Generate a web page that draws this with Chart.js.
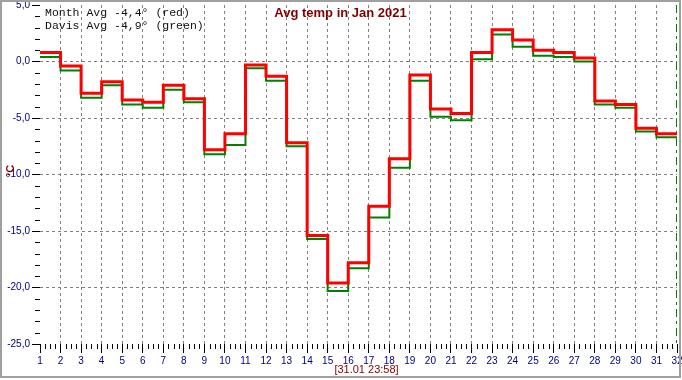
<!DOCTYPE html>
<html>
<head>
<meta charset="utf-8">
<script src="https://cdn.jsdelivr.net/npm/chart.js@4/dist/chart.umd.min.js"></script>
<style>
html,body{margin:0;padding:0;background:#fff;}
#c{display:block;}
</style>
</head>
<body>
<canvas id="c" width="682" height="380"></canvas>
<script>
const days = [1,2,3,4,5,6,7,8,9,10,11,12,13,14,15,16,17,18,19,20,21,22,23,24,25,26,27,28,29,30,31];
const monthAvg = [0.8,-0.4,-2.8,-1.8,-3.4,-3.6,-2.1,-3.3,-7.8,-6.4,-0.3,-1.3,-7.2,-15.4,-19.6,-17.8,-12.8,-8.6,-1.2,-4.2,-4.6,0.8,2.8,1.9,1.0,0.8,0.3,-3.5,-3.8,-5.9,-6.4];
const davisAvg = [0.4,-0.8,-3.2,-2.1,-3.8,-4.1,-2.5,-3.6,-8.2,-7.4,-0.6,-1.7,-7.5,-15.7,-20.3,-18.3,-13.8,-9.4,-1.7,-4.9,-5.2,0.2,2.4,1.3,0.5,0.4,0.0,-3.8,-4.1,-6.2,-6.7];
const endDay = 32;
const yMin = -25, yMax = 5;
const titleText = "Avg temp in Jan 2021";
const legendLines = ["Month Avg -4,4\u00b0 (red)", "Davis Avg -4,9\u00b0 (green)"];
const xTitle = "[31.01 23:58]";
const yTitle = "\u00b0C";

function stepPoints(vals){
  const pts = days.map((d,i)=>({x:d, y:vals[i]}));
  pts.push({x:endDay, y:vals[vals.length-1]});
  return pts;
}

const NAVY = '#000080';
const MAROON = '#800000';
const TICKFONT = "'Liberation Sans Narrow','Arial Narrow','Liberation Sans',Arial,sans-serif";

const decor = {
  id:'decor',
  beforeDraw(chart){
    const c = chart.ctx;
    c.save();
    c.fillStyle = '#fff';
    c.fillRect(0,0,chart.width,chart.height);
    c.restore();
  },
  afterDraw(chart){
    const c = chart.ctx;
    const xs = chart.scales.x, ys = chart.scales.y;
    const ca = chart.chartArea;
    c.save();
    c.strokeStyle = '#000';
    c.lineWidth = 1;
    c.beginPath();
    for(let v=yMin; v<=yMax; v++){
      if(v%5===0) continue;
      const y = Math.round(ys.getPixelForValue(v))+0.5;
      c.moveTo(ca.left-5, y); c.lineTo(ca.left, y);
    }
    for(let d=days[0]; d<endDay; d++){
      for(const f of [0.25,0.5,0.75]){
        const x = Math.round(xs.getPixelForValue(d+f))+0.5;
        c.moveTo(x, ca.bottom); c.lineTo(x, ca.bottom+5);
      }
    }
    c.stroke();
    c.fillStyle = '#a0a0a0';
    c.fillRect(0,0,2,378);
    c.fillRect(0,0,681,2);
    c.fillRect(679,0,2,378);
    c.fillRect(0,376,681,2);
    c.fillStyle = MAROON;
    c.font = "bold 13px 'Liberation Sans',Arial,sans-serif";
    c.textAlign = 'center'; c.textBaseline = 'middle';
    c.fillText(titleText, 340.5, 13);
    c.fillStyle = '#111';
    c.font = "11.5px 'Liberation Mono','Courier New',monospace";
    c.textAlign = 'left';
    c.fillText(legendLines[0], 45, 13);
    c.fillText(legendLines[1], 45, 26);
    c.fillStyle = MAROON;
    c.font = "11px 'Liberation Sans',Arial,sans-serif";
    c.textAlign = 'center';
    c.fillText(xTitle, 366.5, 369.5);
    c.translate(11, 171);
    c.rotate(-Math.PI/2);
    c.font = "bold 11px 'Liberation Sans',Arial,sans-serif";
    c.fillText(yTitle, 0, 0);
    c.restore();
  }
};

new Chart(document.getElementById('c'), {
  type:'line',
  data:{
    datasets:[
      {label:'Month', data:stepPoints(monthAvg), borderColor:'#ff0000', borderWidth:3, stepped:'before', pointRadius:0, fill:false},
      {label:'Davis', data:stepPoints(davisAvg), borderColor:'#008000', borderWidth:2, stepped:'before', pointRadius:0, fill:false},
      {label:'now', data:[{x:endDay,y:yMax},{x:endDay,y:yMin}], borderColor:'#008000', borderWidth:2, borderDash:[8,4,3,4], pointRadius:0, fill:false}
    ]
  },
  options:{
    responsive:false,
    animation:false,
    devicePixelRatio:1,
    layout:{padding:{left:0,right:5,top:5,bottom:0}},
    plugins:{legend:{display:false}, tooltip:{enabled:false}, title:{display:false}},
    scales:{
      x:{
        type:'linear', min:days[0], max:endDay,
        ticks:{stepSize:1, autoSkip:false, maxRotation:0, color:NAVY, padding:2,
          font:{family:TICKFONT, size:10}, callback:v=>String(v)},
        grid:{color:ctx=>(ctx.tick && (ctx.tick.value===days[0]||ctx.tick.value===endDay))?'rgba(0,0,0,0)':'#808080',
          lineWidth:1, tickLength:9, tickColor:'#000', tickWidth:1, drawTicks:true},
        border:{display:false, dash:[3,3]},
        afterFit(s){ s.height = 36; s.paddingLeft = 0; s.paddingRight = 0; }
      },
      y:{
        min:yMin, max:yMax,
        ticks:{stepSize:5, color:NAVY, padding:2, font:{family:TICKFONT, size:10},
          callback:v=>v.toFixed(1).replace('.',',')},
        grid:{color:ctx=>(ctx.tick && (ctx.tick.value===yMin||ctx.tick.value===yMax))?'rgba(0,0,0,0)':'#808080',
          lineWidth:1, tickLength:8, tickColor:'#000', tickWidth:1, drawTicks:true},
        border:{display:false, dash:[3,3]},
        afterFit(s){ s.width = 40; s.paddingTop = 0; s.paddingBottom = 0; }
      }
    }
  },
  plugins:[decor]
});
</script>
</body>
</html>
